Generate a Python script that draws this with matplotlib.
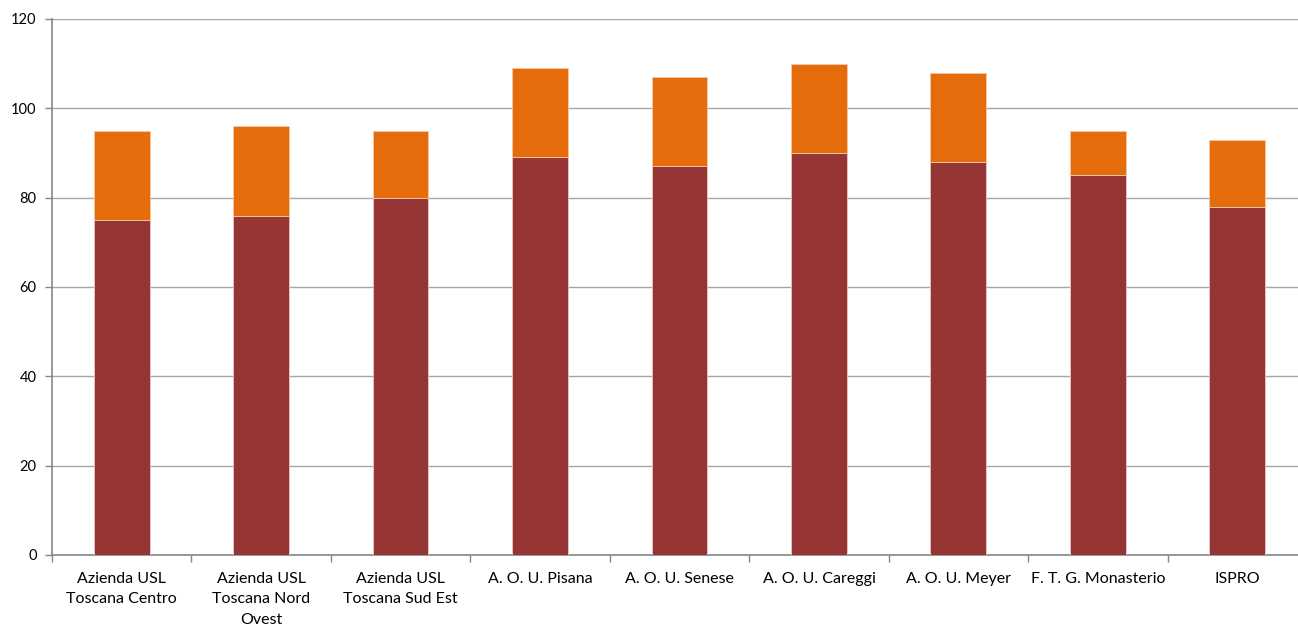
import numpy as np
import matplotlib
matplotlib.use("Agg")
from matplotlib import pyplot as plt

plt.rcParams.update({
    "font.size": 10.5,
    "font.family": ["Lato", "DejaVu Sans"]})

# Data
categories = ["Azienda USL\nToscana Centro", "Azienda USL\nToscana Nord\nOvest",
              "Azienda USL\nToscana Sud Est", "A. O. U. Pisana", "A. O. U. Senese",
              "A. O. U. Careggi", "A. O. U. Meyer", "F. T. G. Monasterio", "ISPRO"]
base_values = [75, 76, 80, 89, 87, 90, 88, 85, 78]
top_values = [20, 20, 15, 20, 20, 20, 20, 10, 15]

fig = plt.figure(figsize=(12.98, 6.28), dpi=100)
# plot area runs a little past the right edge of the picture, as in the reference
ax = fig.add_axes([52/1298, 1 - 555/628, 1255/1298, (555-19)/628])

x = np.arange(len(categories))
ax.bar(x, base_values, width=0.4, color="#963634", edgecolor="#e8c8c6", linewidth=0.6, zorder=3)
ax.bar(x, top_values, width=0.4, bottom=base_values, color="#e46c0a",
       edgecolor="#f5c9a6", linewidth=0.6, zorder=3)

ax.set_xlim(-0.5, len(categories) - 0.5)
ax.set_ylim(0, 120)
ax.set_yticks(range(0, 121, 20))
ax.yaxis.grid(True, color="#a6a6a6", linewidth=1, zorder=0)

ax.set_xticks(x)
ax.set_xticklabels(categories, linespacing=1.6, fontsize=11.5)
ax.tick_params(axis="x", length=0, pad=12)
ax.set_xticks(np.arange(-0.5, len(categories), 1), minor=True)
ax.tick_params(axis="x", which="minor", length=5, color="#868686", width=1)
ax.tick_params(axis="y", length=5, color="#868686", width=1, pad=6)

for side in ["top", "right"]:
    ax.spines[side].set_visible(False)
for side in ["left", "bottom"]:
    ax.spines[side].set_color("#868686")
    ax.spines[side].set_linewidth(1.2)

fig.savefig("out.png", dpi=100)
